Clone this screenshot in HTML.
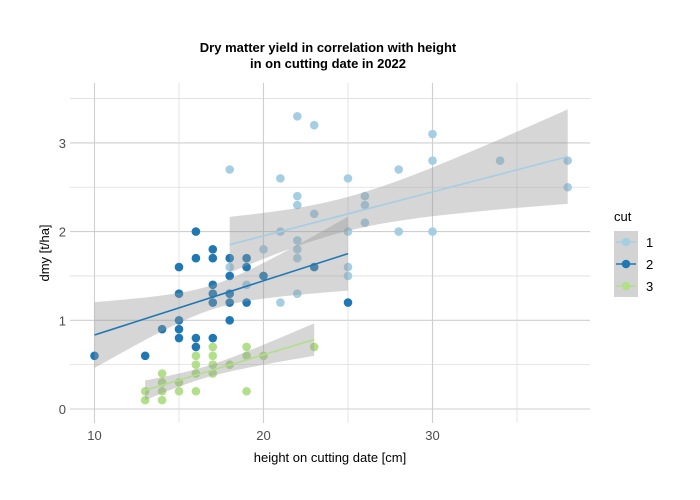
<!DOCTYPE html>
<html><head><meta charset="utf-8"><style>
body{margin:0;background:#fff;}
svg{display:block;font-family:"Liberation Sans",sans-serif;}
</style></head><body>
<svg id="c" width="700" height="500"></svg>
<script>
const xTicks=[10,20,30];
const yTicks=[0,1,2,3];
const cutLabels=["1","2","3"];
const cutColors=["#a6cee3","#1f78b4","#b2df8a"];
const cut1X=[18,21,22,23,22,22,23,21,20,18,22,22,22,21,22,25,25,25,25,26,26,26,28,28,30,30,30,34,38,38,19,18];
const cut1Y=[2.7,2.6,3.3,3.2,2.4,2.3,2.2,2.0,1.8,1.3,1.9,1.8,1.7,1.2,1.3,2.6,2.0,1.6,1.5,2.4,2.3,2.1,2.7,2.0,3.1,2.8,2.0,2.8,2.8,2.5,1.4,1.6];
const cut2X=[10,13,14,15,15,15,15,15,16,16,16,16,17,17,17,17,17,17,18,18,18,18,18,19,19,19,20,23,25];
const cut2Y=[0.6,0.6,0.9,1.6,1.3,1.0,0.9,0.8,2.0,1.7,0.8,0.7,1.8,1.7,1.4,1.3,1.2,0.8,1.7,1.5,1.3,1.2,1.0,1.7,1.6,1.2,1.5,1.6,1.2];
const cut3X=[13,13,14,14,14,14,15,15,16,16,16,16,17,17,17,17,18,19,19,19,20,23];
const cut3Y=[0.2,0.1,0.4,0.3,0.2,0.1,0.3,0.2,0.6,0.5,0.4,0.2,0.7,0.6,0.5,0.4,0.5,0.7,0.6,0.2,0.6,0.7];
const series=[[cut1X,cut1Y],[cut2X,cut2Y],[cut3X,cut3Y]];

const NS="http://www.w3.org/2000/svg";
const svg=document.getElementById('c');
const L=70,R=590,T=83,B=423;
const sx=v=>94.5+(v-10)*16.9;
const sy=v=>409-v*88.7;
function mk(t,a,p){const e=document.createElementNS(NS,t);for(const k in a)e.setAttribute(k,a[k]);(p||svg).appendChild(e);return e;}

for(let v=0;v<=3.5;v+=0.5){const g=mk('line',{x1:L,x2:R,y1:sy(v),y2:sy(v),stroke:v%1===0?'#cfcfcf':'#dedede','stroke-width':v%1===0?1.1:0.8});

}
for(let v=10;v<=35;v+=5){const g=mk('line',{x1:sx(v),x2:sx(v),y1:T,y2:B,stroke:v%10===0?'#cfcfcf':'#dedede','stroke-width':v%10===0?1.1:0.8});

}

function fit(xs,ys){const n=xs.length;const mx=xs.reduce((a,b)=>a+b)/n,my=ys.reduce((a,b)=>a+b)/n;
let sxx=0,sxy=0;for(let i=0;i<n;i++){sxx+=(xs[i]-mx)**2;sxy+=(xs[i]-mx)*(ys[i]-my);}
const b=sxy/sxx,a=my-b*mx;let sse=0;for(let i=0;i<n;i++)sse+=(ys[i]-a-b*xs[i])**2;
const s=Math.sqrt(sse/(n-2));return {a,b,s,n,mx,sxx,min:Math.min(...xs),max:Math.max(...xs)};}
const fits=series.map(s=>fit(s[0],s[1]));

series.forEach((s,i)=>{s[0].forEach((x,j)=>{const c=mk('circle',{cx:sx(x),cy:sy(s[1][j]),r:4.3,fill:cutColors[i]});

});});

fits.forEach((f,i)=>{const up=[],lo=[];const N=40;
for(let k=0;k<=N;k++){const x=f.min+(f.max-f.min)*k/N;const y=f.a+f.b*x;const se=2.05*f.s*Math.sqrt(1/f.n+(x-f.mx)**2/f.sxx);
up.push(sx(x)+','+sy(y+se));lo.unshift(sx(x)+','+sy(y-se));}
const band=mk('polygon',{points:up.concat(lo).join(' '),fill:'#999','fill-opacity':0.4});

});

fits.forEach((f,i)=>{const l=mk('line',{x1:sx(f.min),y1:sy(f.a+f.b*f.min),x2:sx(f.max),y2:sy(f.a+f.b*f.max),stroke:cutColors[i],'stroke-width':1.6});

});

xTicks.forEach(v=>{const t=mk('text',{x:sx(v),y:440,'text-anchor':'middle','font-size':13,fill:'#4d4d4d'});t.textContent=v;

});
yTicks.forEach(v=>{const t=mk('text',{x:66,y:sy(v)+5,'text-anchor':'end','font-size':13,fill:'#4d4d4d'});t.textContent=v;

});

let t=mk('text',{x:330,y:462,'text-anchor':'middle','font-size':13,fill:'#000'});t.textContent='height on cutting date [cm]';


t=mk('text',{x:0,y:0,'text-anchor':'middle','font-size':13,fill:'#000',transform:'translate(49,253) rotate(-90)'});t.textContent='dmy [t/ha]';


t=mk('text',{x:328,y:52,'text-anchor':'middle','font-size':13,'font-weight':'bold'});t.textContent='Dry matter yield in correlation with height';


t=mk('text',{x:328,y:68,'text-anchor':'middle','font-size':13,'font-weight':'bold'});t.textContent='in on cutting date in 2022';



t=mk('text',{x:614,y:221,'font-size':13});t.textContent='cut';


cutLabels.forEach((lab,i)=>{const y=231+i*22;
const g=mk('g',{});


mk('rect',{x:614,y:y,width:24,height:22,fill:'#d3d3d3'},g);
mk('line',{x1:616,x2:636,y1:y+11,y2:y+11,stroke:cutColors[i],'stroke-width':1.6},g);
mk('circle',{cx:626,cy:y+11,r:4.3,fill:cutColors[i]},g);
const tt=mk('text',{x:646,y:y+16,'font-size':13},g);tt.textContent=lab;});
</script>
</body></html>
